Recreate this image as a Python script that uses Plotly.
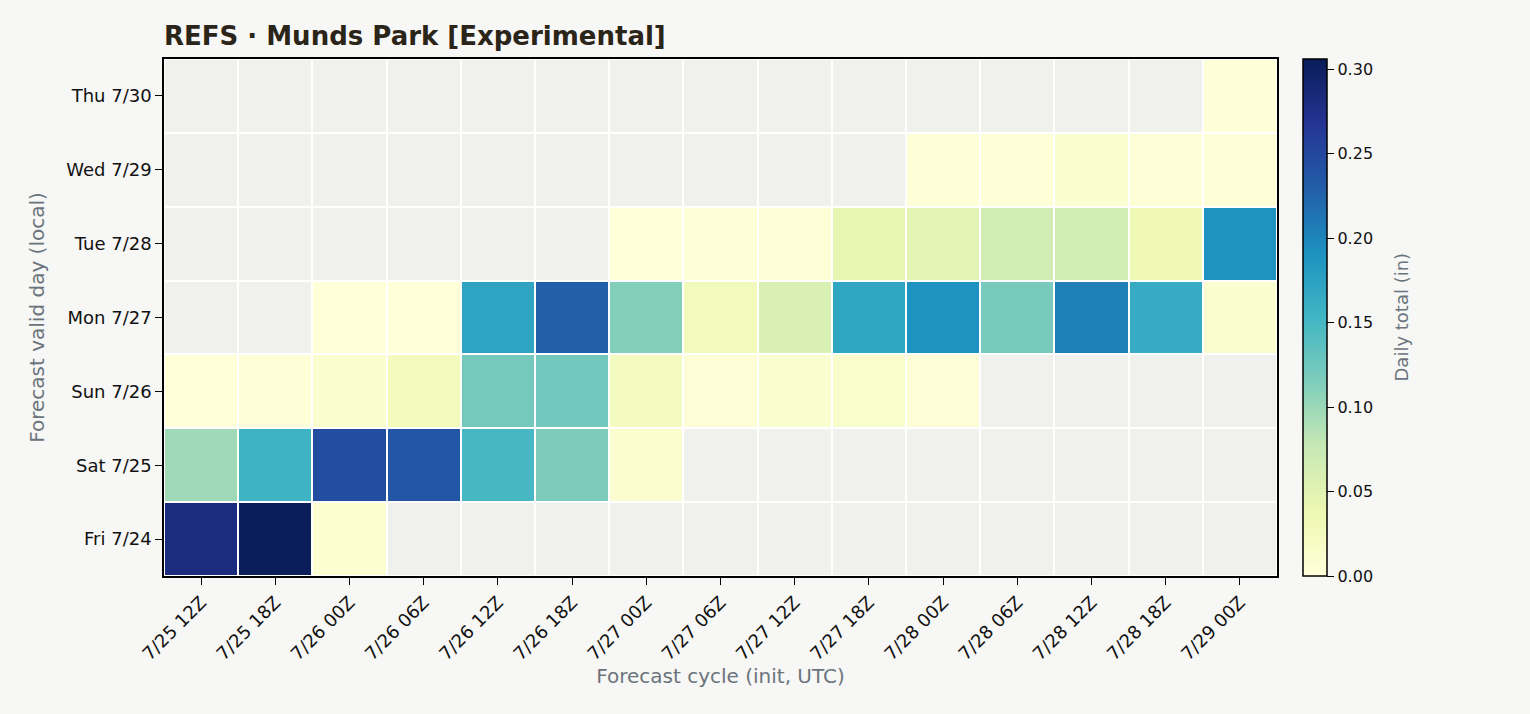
import numpy as np
import plotly.graph_objects as go

N = None
cycles = ["7/25 12Z", "7/25 18Z", "7/26 00Z", "7/26 06Z", "7/26 12Z", "7/26 18Z",
          "7/27 00Z", "7/27 06Z", "7/27 12Z", "7/27 18Z", "7/28 00Z", "7/28 06Z",
          "7/28 12Z", "7/28 18Z", "7/29 00Z"]
days = ["Fri 7/24", "Sat 7/25", "Sun 7/26", "Mon 7/27", "Tue 7/28", "Wed 7/29", "Thu 7/30"]

fri = [0.281, 0.305, 0.0065, N, N, N, N, N, N, N, N, N, N, N, N]
sat = [0.098, 0.156, 0.244, 0.237, 0.149, 0.116, 0.009, N, N, N, N, N, N, N, N]
sun = [0.001, 0.002, 0.011, 0.028, 0.121, 0.123, 0.024, 0.004, 0.01, 0.013, 0.004, N, N, N, N]
mon = [N, N, 0.001, 0.001, 0.172, 0.229, 0.112, 0.03, 0.059, 0.17, 0.19, 0.119, 0.205, 0.164, 0.01]
tue = [N, N, N, N, N, N, 0.001, 0.002, 0.004, 0.044, 0.048, 0.066, 0.067, 0.034, 0.19]
wed = [N, N, N, N, N, N, N, N, N, N, 0.002, 0.002, 0.01, 0.003, 0.004]
thu = [N, N, N, N, N, N, N, N, N, N, N, N, N, N, 0.002]

rows = [fri, sat, sun, mon, tue, wed, thu]
z = np.array([[np.nan if v is None else v for v in r] for r in rows], dtype=float)
missing = np.where(np.isnan(z), 1.0, np.nan)

ylgnbu = [[0.0, "#ffffd9"], [0.125, "#edf8b1"], [0.25, "#c7e9b4"], [0.375, "#7fcdbb"],
          [0.5, "#41b6c4"], [0.625, "#1d91c0"], [0.75, "#225ea8"], [0.875, "#253494"],
          [1.0, "#081d58"]]

fig = go.Figure()
fig.add_trace(go.Heatmap(
    z=missing, x=cycles, y=days, colorscale=[[0, "#f0f0ec"], [1, "#f0f0ec"]],
    showscale=False, xgap=2, ygap=2, hoverinfo="skip"))
fig.add_trace(go.Heatmap(
    z=z, x=cycles, y=days, colorscale=ylgnbu, zmin=0, zmax=0.306,
    xgap=2, ygap=2,
    colorbar=dict(
        x=1.0234, xanchor="left", xpad=0, y=0.5, yanchor="middle", len=1, lenmode="fraction",
        ypad=0, thickness=24, outlinewidth=1.5, outlinecolor="black",
        tickvals=[0, 0.05, 0.1, 0.15, 0.2, 0.25, 0.3], tickformat=".2f",
        tickprefix="\u2002",
        ticks="outside", ticklen=7, tickwidth=1.3, tickcolor="black",
        tickfont=dict(family="DejaVu Sans", size=16, color="#111"),
    )))

fig.add_annotation(
    text="Daily total (in)", textangle=-90, xref="paper", yref="paper",
    x=(1401 - 164) / 1113, y=0.5, xanchor="center", yanchor="middle", showarrow=False,
    font=dict(family="DejaVu Sans", size=18, color="#6b747c"))

fig.update_layout(
    width=1530, height=714,
    margin=dict(l=164, r=253, t=59, b=138),
    paper_bgcolor="#f7f7f5", plot_bgcolor="#ffffff",
    title=dict(text="<b>REFS · Munds Park [Experimental]</b>", x=164/1530, xanchor="left",
               y=1-36/714, yanchor="middle",
               font=dict(family="DejaVu Sans", size=26, color="#2b2418")),
    font=dict(family="DejaVu Sans"),
)
fig.update_xaxes(
    showline=True, linecolor="black", linewidth=1.5, mirror=True,
    ticks="outside", ticklen=7, tickwidth=1.3, tickcolor="black", tickangle=-45,
    tickfont=dict(family="DejaVu Sans", size=18, color="#111"),
    title=dict(text="Forecast cycle (init, UTC)", standoff=6,
               font=dict(family="DejaVu Sans", size=20, color="#6b747c")),
    showgrid=False, zeroline=False)
fig.update_yaxes(
    showline=True, linecolor="black", linewidth=1.5, mirror=True,
    ticks="outside", ticklen=7, tickwidth=1.3, tickcolor="black",
    tickfont=dict(family="DejaVu Sans", size=18, color="#111"),
    title=dict(text="Forecast valid day (local)", standoff=16,
               font=dict(family="DejaVu Sans", size=20, color="#6b747c")),
    showgrid=False, zeroline=False)

fig.write_html("out.html")
